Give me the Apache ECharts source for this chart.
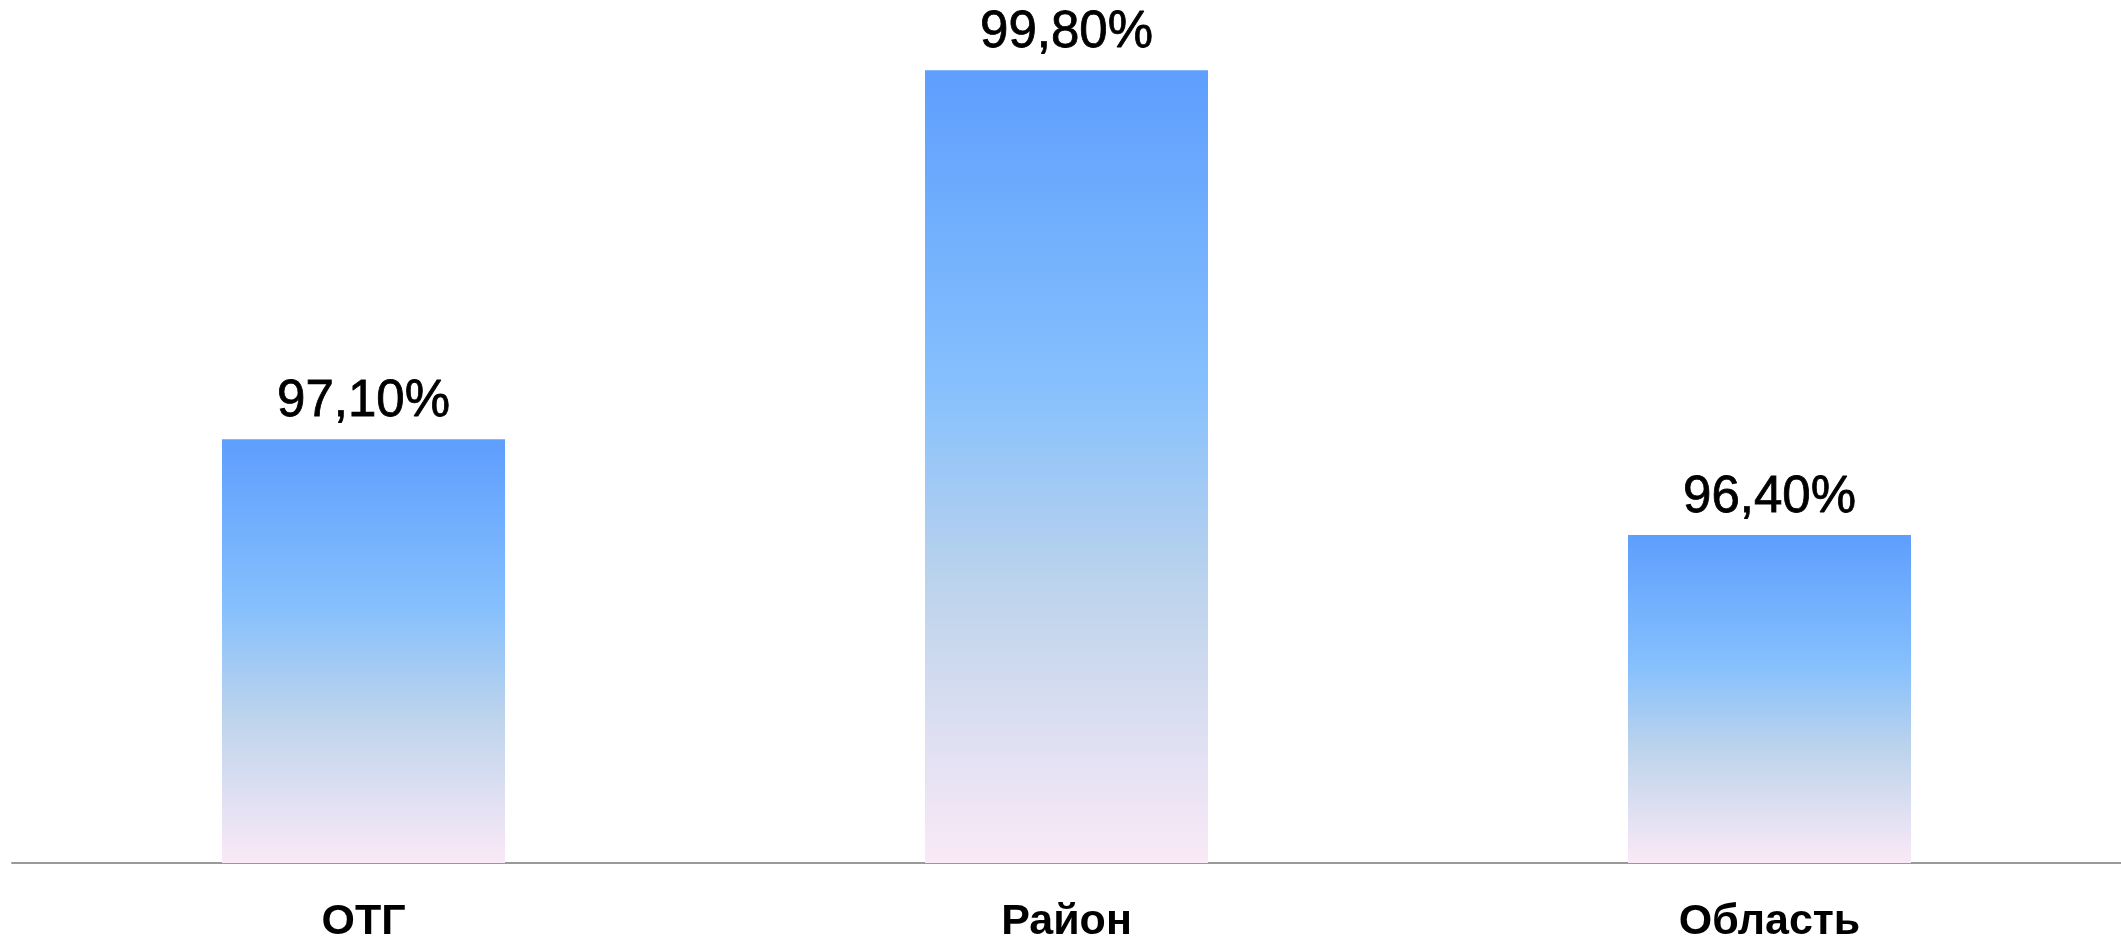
<!DOCTYPE html>
<html>
<head>
<meta charset="utf-8">
<script src="https://cdn.jsdelivr.net/npm/echarts@6/dist/echarts.min.js"></script>
<style>
  html, body { margin: 0; padding: 0; background: #fff; }
  #main { width: 2121px; height: 944px; }
</style>
</head>
<body>
<div id="main"></div>
<script>
// дані
var categories = ['ОТГ', 'Район', 'Область'];
var values = [97.1, 99.8, 96.4];

var myChart = echarts.init(document.getElementById('main'));
myChart.setOption({
    animation: false,
    grid: {
        left: 12,
        right: 0,
        top: 43,
        bottom: 81
    },
    xAxis: {
        type: 'category',
        data: categories,
        axisLine: { lineStyle: { color: '#999', width: 2 } },
        axisTick: { show: false },
        axisLabel: {
            color: '#000',
            fontFamily: 'Liberation Sans',
            fontWeight: 'bold',
            fontSize: 43,
            margin: 38
        }
    },
    yAxis: {
        type: 'value',
        min: 94,
        max: 100,
        show: false,
        splitLine: { show: false }
    },
    series: [
        {
            type: 'bar',
            data: values,
            barWidth: 283,
            itemStyle: {
                color: new echarts.graphic.LinearGradient(0, 0, 0, 1, [
                    { offset: 0, color: '#5e9efd' },
                    { offset: 0.4, color: '#86c0fd' },
                    { offset: 0.65, color: '#bcd3ec' },
                    { offset: 0.85, color: '#e0e0f2' },
                    { offset: 1, color: '#fae9f7' }
                ])
            },
            label: {
                show: true,
                position: 'top',
                distance: 12,
                color: '#000',
                fontFamily: 'Liberation Sans',
                fontSize: 51,
                textBorderColor: '#000',
                textBorderWidth: 0.8,
                formatter: function (p) {
                    return p.value.toFixed(2).replace('.', ',') + '%';
                }
            }
        }
    ]
});
</script>
</body>
</html>
